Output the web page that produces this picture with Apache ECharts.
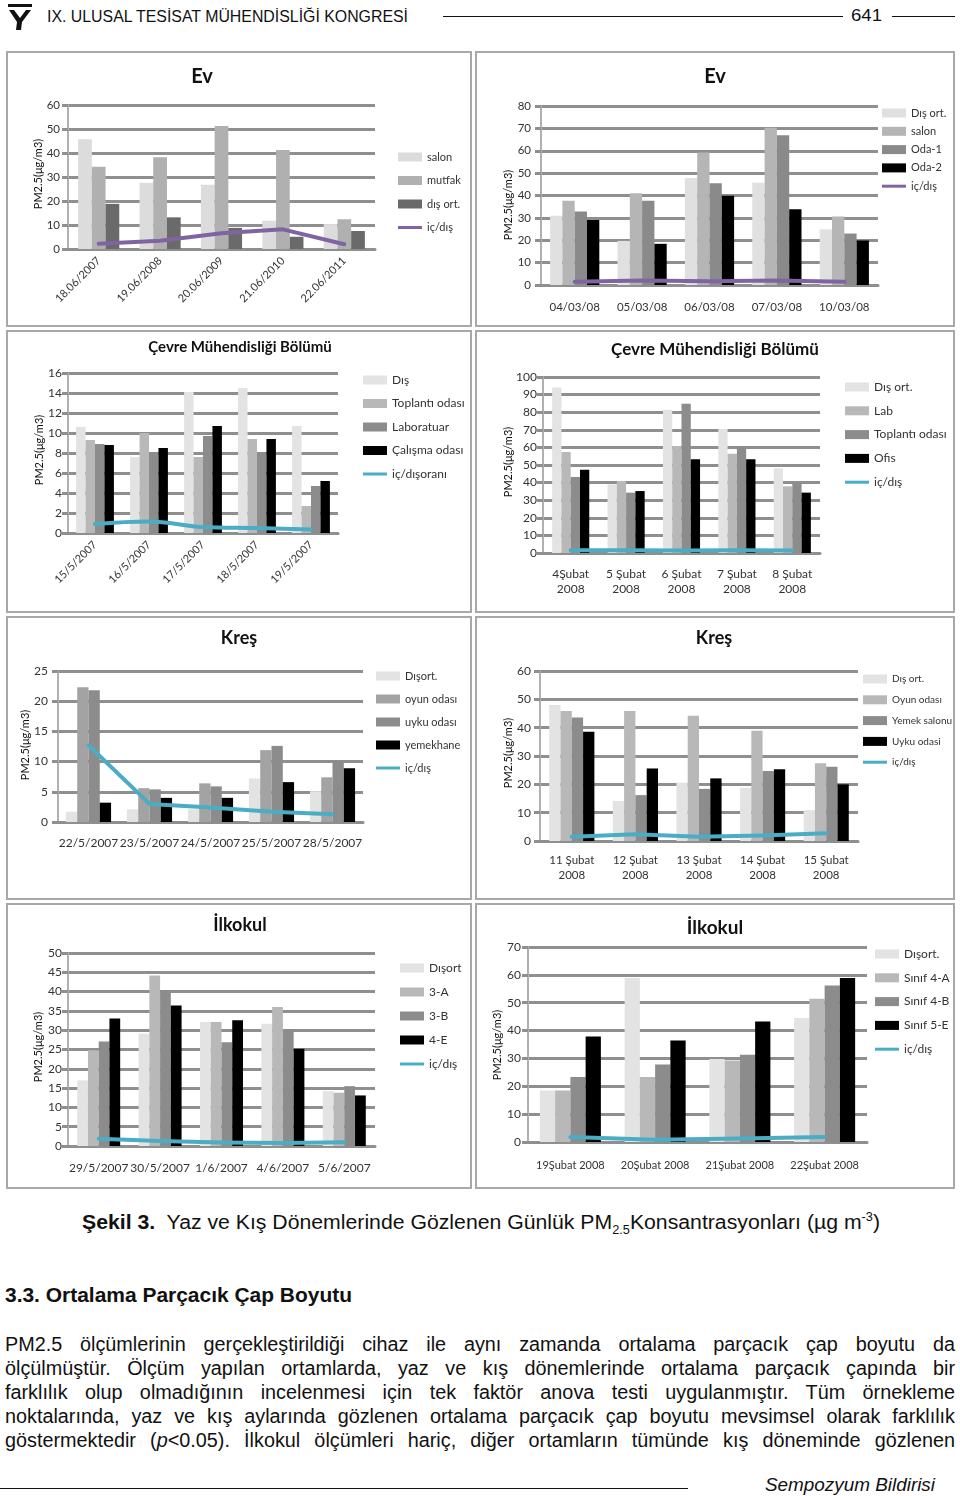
<!DOCTYPE html>
<html><head><meta charset="utf-8">
<script src="https://cdn.jsdelivr.net/npm/echarts@6/dist/echarts.min.js"></script>
<style>
html,body{margin:0;padding:0;background:#fff}
body{width:960px;height:1496px;position:relative;overflow:hidden;font-family:"Liberation Sans",Arial,sans-serif;color:#111}
.panel{position:absolute;box-sizing:border-box;border:2px solid #a8a8a8;background:#fff}
.chart{position:absolute}
.txt{position:absolute;white-space:nowrap;transform-origin:0 50%;line-height:24px;height:24px}
.hline{position:absolute;height:0;border-top:1.5px solid #111}
sub,sup{font-size:12px;line-height:0}
</style></head><body>
<script>
// ---------- DATA ----------
const evYazCats = ['18.06/2007','19.06/2008','20.06/2009','21.06/2010','22.06/2011'];
const evYazSalon = [45.7, 27.6, 26.8, 11.8, 10.4];
const evYazMutfak = [34.3, 38.2, 51.3, 41.3, 12.4];
const evYazDis = [18.8, 13.2, 8.8, 5.1, 7.5];
const evYazOran = [2.2, 3.4, 6.6, 8.2, 2.0];

const evKisCats = ['04/03/08','05/03/08','06/03/08','07/03/08','10/03/08'];
const evKisDis = [31, 19.7, 47.8, 45.7, 24.9];
const evKisSalon = [37.7, 41, 59.2, 70.3, 30.6];
const evKisOda1 = [32.9, 37.7, 45.5, 66.9, 23];
const evKisOda2 = [29.1, 18.4, 39.9, 33.8, 19.9];
const evKisOran = [1.5, 2.0, 1.7, 2.0, 1.4];

const cmYazCats = ['15/5/2007','16/5/2007','17/5/2007','18/5/2007','19/5/2007'];
const cmYazDis = [10.6, 7.6, 14.1, 14.5, 10.7];
const cmYazToplanti = [9.3, 10, 7.6, 9.4, 2.7];
const cmYazLab = [8.9, 8.1, 9.7, 8.1, 4.7];
const cmYazCalisma = [8.8, 8.5, 10.7, 9.4, 5.2];
const cmYazOran = [0.9, 1.15, 0.6, 0.5, 0.35];

const cmKisCats = ['4Şubat\n2008','5 Şubat\n2008','6 Şubat\n2008','7 Şubat\n2008','8 Şubat\n2008'];
const cmKisDis = [94, 39, 81.4, 70.5, 48.1];
const cmKisLab = [57.4, 40.9, 60.8, 56.4, 37.9];
const cmKisToplanti = [43.2, 34.3, 84.8, 60.2, 40.3];
const cmKisOfis = [47.3, 35.2, 53.2, 53.2, 34.3];
const cmKisOran = [1.5, 1.5, 1.4, 1.5, 1.4];

const krYazCats = ['22/5/2007','23/5/2007','24/5/2007','25/5/2007','28/5/2007'];
const krYazDis = [1.7, 2.1, 2.1, 7.2, 5.1];
const krYazOyun = [22.3, 5.6, 6.4, 11.9, 7.4];
const krYazUyku = [21.8, 5.4, 5.9, 12.6, 10.1];
const krYazYemekhane = [3.2, 4.0, 4.0, 6.6, 8.9];
const krYazOran = [12.7, 3.0, 2.4, 1.7, 1.3];

const krKisCats = ['11 Şubat\n2008','12 Şubat\n2008','13 Şubat\n2008','14 Şubat\n2008','15 Şubat\n2008'];
const krKisDis = [48, 14.1, 20.6, 18.8, 10.9];
const krKisOyun = [45.9, 45.9, 44.2, 38.9, 27.4];
const krKisYemek = [43.6, 16.2, 18.4, 24.7, 26.2];
const krKisUyku = [38.6, 25.6, 22.1, 25.3, 20];
const krKisOran = [1.5, 2.4, 1.5, 1.9, 2.7];

const ilYazCats = ['29/5/2007','30/5/2007','1/6/2007','4/6/2007','5/6/2007'];
const ilYazDis = [17, 29.1, 32.1, 31.7, 14.2];
const ilYaz3A = [24.8, 44.2, 32.1, 36, 13.8];
const ilYaz3B = [27.1, 40.3, 26.9, 30.1, 15.5];
const ilYaz4E = [33, 36.4, 32.6, 25.2, 13.1];
const ilYazOran = [1.9, 1.3, 0.9, 0.8, 1.0];

const ilKisCats = ['19Şubat 2008','20Şubat 2008','21Şubat 2008','22Şubat 2008'];
const ilKisDis = [18.5, 58.9, 29.8, 44.5];
const ilKis4A = [18.5, 23.3, 29.3, 51.4];
const ilKis4B = [23.3, 27.8, 31.3, 56.2];
const ilKis5E = [37.9, 36.4, 43.3, 58.9];
const ilKisOran = [1.8, 0.8, 1.3, 1.8];

const yAxisTitle = 'PM2.5(μg/m3)';

// ---------- PAGE TEXT ----------
function addText(html, left, cy, width, size, o) {
  o = o || {};
  const d = document.createElement('div');
  d.className = 'txt';
  d.innerHTML = html;
  d.style.fontSize = size + 'px';
  d.style.left = left + 'px';
  d.style.top = (cy - 12) + 'px';
  if (o.bold) d.style.fontWeight = 'bold';
  if (o.italic) d.style.fontStyle = 'italic';
  document.body.appendChild(d);
  const w = d.getBoundingClientRect().width;
  if (o.justify) {
    const n = (d.textContent.match(/ /g) || []).length;
    const s = o.scale;
    d.style.wordSpacing = ((width / s - w) / n) + 'px';
    d.style.transform = 'scaleX(' + s + ')';
  } else {
    d.style.transform = 'scaleX(' + (width / w) + ')';
  }
}
function addLine(x1, x2, y) {
  const d = document.createElement('div');
  d.className = 'hline';
  d.style.left = x1 + 'px'; d.style.width = (x2 - x1) + 'px'; d.style.top = y + 'px';
  document.body.appendChild(d);
}
// logo
document.body.insertAdjacentHTML('beforeend',
  '<svg style="position:absolute;left:4px;top:3px" width="32" height="28" viewBox="0 0 32 28">' +
  '<rect x="4" y="1" width="24" height="3" fill="#111"/>' +
  '<path d="M5 7 L10 7 L16 15 L22 7 L27 7 L18 19 L17 27 L12 27 L13 19 Z" fill="#111"/></svg>');
addText('IX. ULUSAL TESİSAT MÜHENDİSLİĞİ KONGRESİ', 47, 17, 361, 16);
addLine(443, 843, 16);
addText('641', 851, 16, 31, 17);
addLine(892, 955, 16);

addText('<b>Şekil 3.</b>&nbsp; Yaz ve Kış Dönemlerinde Gözlenen Günlük PM<sub>2.5</sub>Konsantrasyonları (µg m<sup>-3</sup>)', 82, 1222, 798, 20);
addText('3.3. Ortalama Parçacık Çap Boyutu', 5, 1295, 347, 20, {bold: true});
const paraLines = [
  'PM2.5 ölçümlerinin gerçekleştirildiği cihaz ile aynı zamanda ortalama parçacık çap boyutu da',
  'ölçülmüştür. Ölçüm yapılan ortamlarda, yaz ve kış dönemlerinde ortalama parçacık çapında bir',
  'farklılık olup olmadığının incelenmesi için tek faktör anova testi uygulanmıştır. Tüm örnekleme',
  'noktalarında, yaz ve kış aylarında gözlenen ortalama parçacık çap boyutu mevsimsel olarak farklılık',
  'göstermektedir (<i>p</i>&lt;0.05). İlkokul ölçümleri hariç, diğer ortamların tümünde kış döneminde gözlenen'
];
paraLines.forEach((t, i) => addText(t, 5, 1344 + 24 * i, 950, 20, {justify: true, scale: 0.99}));
addLine(0, 688, 1488);
addText('Sempozyum Bildirisi', 765, 1485, 170, 19, {italic: true});

// ---------- CHARTS ----------
const FONT = 'Lato';
function build(cfg) {
  const [bx, by, bw, bh] = cfg.box;
  const pd = document.createElement('div');
  pd.className = 'panel';
  const cd = document.createElement('div');
  cd.className = 'chart';
  [pd, cd].forEach(d => {
    d.style.left = bx + 'px'; d.style.top = by + 'px';
    d.style.width = bw + 'px'; d.style.height = bh + 'px';
    document.body.appendChild(d);
  });
  const chart = echarts.init(cd, null, {renderer: 'canvas'});
  const g = cfg.grid;
  const series = cfg.bars.map((d, i) => ({
    name: cfg.names[i], type: 'bar', data: d, barGap: '0%', barCategoryGap: cfg.gap,
    itemStyle: {color: cfg.colors[i]}, emphasis: {disabled: true}
  }));
  series.push({
    name: cfg.lineName, type: 'line', data: cfg.line, smooth: cfg.smooth || false,
    symbol: 'none', lineStyle: {color: cfg.lineColor, width: 4, cap: 'round', join: 'round'},
    itemStyle: {color: cfg.lineColor}, z: 5, emphasis: {disabled: true}
  });
  const legendData = cfg.names.map(n => ({name: n, icon: 'rect'}));
  legendData.push({name: cfg.lineName, icon: 'path://M0,0M0,9M0,3L24,3L24,6L0,6Z'});
  const L = cfg.leg;
  chart.setOption({
    animation: false,
    textStyle: {fontFamily: FONT},
    grid: {left: g[0] - bx, top: g[1] - by, width: g[2] - g[0], height: g[3] - g[1], containLabel: false},
    xAxis: {
      type: 'category', data: cfg.cats,
      axisLine: {show: true, lineStyle: {color: '#8f8f8f', width: 3}},
      axisTick: {show: false},
      splitLine: {show: false},
      axisLabel: {color: '#333', fontFamily: FONT, fontSize: cfg.xFont, rotate: cfg.rotate || 0,
        margin: cfg.xMargin, interval: 0, lineHeight: 15}
    },
    yAxis: {
      type: 'value', min: 0, max: cfg.yMax, interval: cfg.yInt,
      axisLine: {show: true, lineStyle: {color: '#b0b0b0', width: 2}},
      axisTick: {show: true, length: 6, lineStyle: {color: '#8f8f8f', width: 3}},
      splitLine: {show: true, lineStyle: {color: '#8f8f8f', width: 3}},
      axisLabel: {color: '#333', fontFamily: FONT, fontSize: cfg.yFont || 12, margin: cfg.yMargin}
    },
    legend: {
      orient: 'vertical', left: L[0] - bx, top: L[1] - by - 7, padding: 0,
      itemGap: L[2] - 14, itemWidth: 24, itemHeight: 9, selectedMode: false,
      textStyle: {fontFamily: FONT, fontSize: L[3], color: '#333', lineHeight: 14},
      data: legendData
    },
    graphic: [
      {type: 'text', x: cfg.title[1] - bx, y: cfg.title[2] - by,
        style: {text: cfg.title[0], fill: '#111', font: 'bold ' + cfg.title[3] + 'px ' + FONT,
          align: 'center', verticalAlign: 'middle', textAlign: 'center', textVerticalAlign: 'middle'}},
      {type: 'text', x: cfg.yname[0] - bx, y: cfg.yname[1] - by, rotation: Math.PI / 2,
        style: {text: yAxisTitle, fill: '#111', font: '11px ' + FONT,
          align: 'center', verticalAlign: 'middle', textAlign: 'center', textVerticalAlign: 'middle'}}
    ],
    series: series
  });
}

const PURPLE = '#8064a2', CYAN = '#4bacc6';

build({box: [6, 51, 466, 276], grid: [68, 105, 375, 249], title: ['Ev', 202, 77, 20], yname: [38, 174],
  leg: [398, 157, 23.5, 11], gap: '33%', rotate: 45, xFont: 11, xMargin: 10, yFont: 11.5, yMargin: 8,
  yMax: 60, yInt: 10, cats: evYazCats,
  names: ['salon', 'mutfak', 'dış ort.'], bars: [evYazSalon, evYazMutfak, evYazDis],
  colors: ['#dcdcdc', '#b0b0b0', '#6a6a6a'], lineName: 'iç/dış', line: evYazOran, lineColor: PURPLE});

build({box: [475, 51, 480, 276], grid: [541, 106, 878, 285], title: ['Ev', 715, 77, 20], yname: [508, 205],
  leg: [882, 113, 18.3, 11], gap: '27%', xFont: 11.5, xMargin: 15, yFont: 11.5, yMargin: 10,
  yMax: 80, yInt: 10, cats: evKisCats,
  names: ['Dış ort.', 'salon', 'Oda-1', 'Oda-2'], bars: [evKisDis, evKisSalon, evKisOda1, evKisOda2],
  colors: ['#e0e0e0', '#b5b5b5', '#8a8a8a', '#000000'], lineName: 'iç/dış', line: evKisOran, lineColor: PURPLE});

build({box: [6, 330, 466, 283], grid: [68, 373, 338, 533], title: ['Çevre Mühendisliği Bölümü', 240, 347, 15], yname: [39, 450],
  leg: [363, 380, 23.5, 12], gap: '30%', rotate: 45, xFont: 11, xMargin: 10, yMargin: 6,
  yMax: 16, yInt: 2, cats: cmYazCats,
  names: ['Dış', 'Toplantı odası', 'Laboratuar', 'Çalışma odası'], bars: [cmYazDis, cmYazToplanti, cmYazLab, cmYazCalisma],
  colors: ['#e3e3e3', '#b8b8b8', '#8c8c8c', '#000000'], lineName: 'iç/dışoranı', line: cmYazOran, lineColor: CYAN, smooth: 0.4});

build({box: [475, 330, 480, 283], grid: [543, 377, 820, 553], title: ['Çevre Mühendisliği Bölümü', 715, 350, 17], yname: [508, 462],
  leg: [845, 387, 23.8, 12], gap: '33%', xFont: 12, xMargin: 14, yMargin: 6,
  yMax: 100, yInt: 10, cats: cmKisCats,
  names: ['Dış ort.', 'Lab', 'Toplantı odası', 'Ofis'], bars: [cmKisDis, cmKisLab, cmKisToplanti, cmKisOfis],
  colors: ['#e3e3e3', '#b8b8b8', '#8c8c8c', '#000000'], lineName: 'iç/dış', line: cmKisOran, lineColor: CYAN});

build({box: [6, 616, 466, 284], grid: [58, 671, 363, 822], title: ['Kreş', 239, 638, 18], yname: [25, 745],
  leg: [376, 676, 23, 11], gap: '26%', xFont: 12, xMargin: 14, yMargin: 10,
  yMax: 25, yInt: 5, cats: krYazCats,
  names: ['Dışort.', 'oyun odası', 'uyku odası', 'yemekhane'], bars: [krYazDis, krYazOyun, krYazUyku, krYazYemekhane],
  colors: ['#e3e3e3', '#a3a3a3', '#8c8c8c', '#000000'], lineName: 'iç/dış', line: krYazOran, lineColor: CYAN});

build({box: [475, 616, 480, 284], grid: [540, 671, 858, 841], title: ['Kreş', 714, 638, 18], yname: [508, 753],
  leg: [863, 679, 20.8, 10], gap: '29%', xFont: 11.5, xMargin: 11.5, yMargin: 9,
  yMax: 60, yInt: 10, cats: krKisCats,
  names: ['Dış ort.', 'Oyun odası', 'Yemek salonu', 'Uyku odasi'], bars: [krKisDis, krKisOyun, krKisYemek, krKisUyku],
  colors: ['#e3e3e3', '#b8b8b8', '#8c8c8c', '#000000'], lineName: 'iç/dış', line: krKisOran, lineColor: CYAN});

build({box: [6, 903, 466, 286], grid: [68, 953, 375, 1146], title: ['İlkokul', 240, 925, 18], yname: [38, 1047],
  leg: [400, 968, 24, 12], gap: '30%', xFont: 12, xMargin: 15, yMargin: 6,
  yMax: 50, yInt: 5, cats: ilYazCats,
  names: ['Dışort', '3-A', '3-B', '4-E'], bars: [ilYazDis, ilYaz3A, ilYaz3B, ilYaz4E],
  colors: ['#e3e3e3', '#b8b8b8', '#8c8c8c', '#000000'], lineName: 'iç/dış', line: ilYazOran, lineColor: CYAN});

build({box: [475, 903, 480, 286], grid: [528, 947, 867, 1142], title: ['İlkokul', 715, 928, 19], yname: [497, 1045],
  leg: [875, 954, 23.8, 12], gap: '28%', xFont: 11, xMargin: 16, yMargin: 7,
  yMax: 70, yInt: 10, cats: ilKisCats,
  names: ['Dışort.', 'Sınıf 4-A', 'Sınıf 4-B', 'Sınıf 5-E'], bars: [ilKisDis, ilKis4A, ilKis4B, ilKis5E],
  colors: ['#e3e3e3', '#b8b8b8', '#8c8c8c', '#000000'], lineName: 'iç/dış', line: ilKisOran, lineColor: CYAN});
</script>
</body></html>
